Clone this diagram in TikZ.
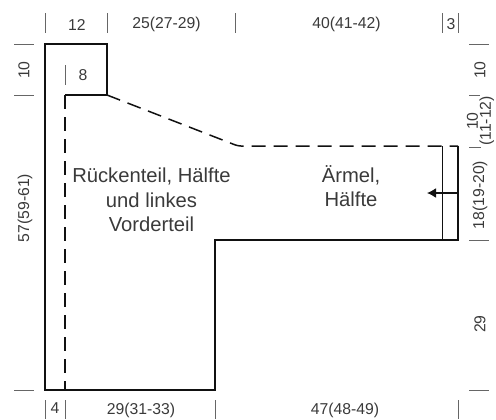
\documentclass[tikz,border=0pt]{standalone}
\usepackage{fontspec}
\usetikzlibrary{arrows.meta}
\setmainfont{Liberation Sans}
\definecolor{ink}{HTML}{111111}
\definecolor{txt}{HTML}{3A3A3A}
\definecolor{tickc}{HTML}{666666}
\tikzset{
  outline/.style={draw=ink,line width=1.5bp,line cap=butt,line join=miter},
  dashline/.style={draw=ink,line width=1.5bp,dash pattern=on 14bp off 8bp},
  thinline/.style={draw=ink,line width=0.8bp},
  tick/.style={draw=tickc,line width=0.7bp},
  dim/.style={text=txt,font=\fontsize{15.8}{17}\selectfont,inner sep=0pt},
  body/.style={text=txt,font=\fontsize{20.3}{24.5}\selectfont,inner sep=0pt,align=center},
}
\begin{document}
\begin{tikzpicture}[x=1bp,y=-1bp]
\useasboundingbox (0,0) rectangle (496,419);
% outline
\coordinate (tl) at (45,44); \coordinate (tr) at (107,44); \coordinate (ne) at (107,95);
\coordinate (ni) at (65,95); \coordinate (bi) at (65,390); \coordinate (bl) at (45,390);
\coordinate (br) at (215,390); \coordinate (ar) at (215,240); \coordinate (sr) at (458,240);
\coordinate (st) at (458,146); \coordinate (sm) at (238,146);
\coordinate (cf) at (442,146); \coordinate (cb) at (442,240);
\coordinate (as) at (458,193); \coordinate (ae) at (427,193);
\draw[outline] (ni) -- (ne) -- (tr) -- (tl) -- (bl) -- (br) -- (ar) -- (sr) -- (st);
\draw[dashline] (ni) -- (bi);
\draw[dashline,rounded corners=3bp] (ne) -- (sm) -- (st);
\draw[thinline] (cf) -- (cb);
\draw[draw=ink,line width=1.5bp,-{Latex[length=9bp,width=10bp]}] (as) -- (ae);
% top ticks
\foreach \x in {45,107,235,442,458} \draw[tick] (\x,13) -- (\x,33);
% bottom ticks
\foreach \x in {45,65,215,458} \draw[tick] (\x,400) -- (\x,419);
% left ticks
\foreach \y in {44,95,390} \draw[tick] (14,\y) -- (34,\y);
% right ticks
\draw[tick] (469,44) -- (489,44);
\draw[tick] (469,95) -- (480,95);
\draw[tick] (469,147) -- (481,147);
\draw[tick] (469,240) -- (489,240);
\draw[tick] (469,390) -- (489,390);
\draw[tick] (65,65) -- (65,85);
% labels
\node[dim] (t1) at (77,24.5) {12};
\node[dim] (t2) at (166.5,24.5) {25(27-29)};
\node[dim] (t3) at (346.5,24.5) {40(41-42)};
\node[dim] (t4) at (451,24.5) {3};
\node[dim] (b1) at (55,408) {4};
\node[dim] (b2) at (141,410) {29(31-33)};
\node[dim] (b3) at (345,410) {47(48-49)};
\node[dim] (in8) at (83,75) {8};
\node[dim,rotate=90] (l1) at (24,70) {10};
\node[dim,rotate=90] (l2) at (25,208) {57(59-61)};
\node[dim,rotate=90] (r1) at (480,70) {10};
\node[dim,rotate=90,align=center,font=\fontsize{15.8}{13}\selectfont] (r2) at (480.5,121) {10\\(11-12)};
\node[dim,rotate=90] (r3) at (480,195) {18(19-20)};
\node[dim,rotate=90] (r4) at (480,324) {29};
\node[body] (back) at (151.5,200) {Rückenteil, Hälfte\\und linkes\\Vorderteil};
\node[body] (sleeve) at (351,186) {Ärmel,\\Hälfte};
\end{tikzpicture}
\end{document}
